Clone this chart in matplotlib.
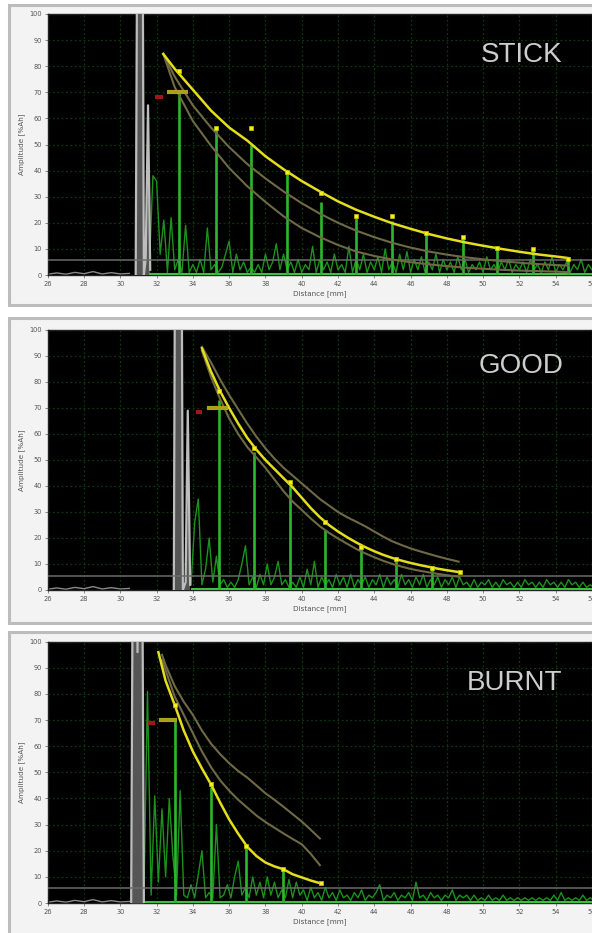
import numpy as np
import matplotlib
matplotlib.use("Agg")
import matplotlib.pyplot as plt
from matplotlib.patches import Rectangle

plt.rcParams["font.family"] = ["DejaVu Sans"]

# ---------------- data ----------------
panel_names = ["STICK", "GOOD", "BURNT"]
x_ticks = list(range(26, 57, 2))
y_ticks = list(range(0, 101, 10))
noise_step = 0.2

# low grey trace before the initial echo (same for all panels)
pre_x = [26.0, 26.5, 27.0, 27.5, 28.0, 28.5, 29.0, 29.5, 30.0, 30.5]
pre_y = [0.3, 0.8, 0.3, 1.0, 0.5, 1.3, 0.4, 0.9, 0.4, 0.6]

# STICK
stick_gray_x = [30.85, 31.1, 31.3, 31.4, 31.53, 31.65]
stick_gray_y = [0, 400, 0, 6, 65, 2]
stick_noise_start = 31.6
stick_noise = [3, 38,
               36, 8, 21, 1, 22,
               2, 6, 1, 19, 1,
               4, 1, 6, 1, 18,
               2, 4, 1, 3, 8,
               13, 1, 8, 2, 5,
               1, 3, 1, 4, 1,
               8, 2, 5, 12, 2,
               8, 2, 5, 1, 6,
               1, 4, 2, 11, 1,
               6, 2, 5, 1, 8,
               2, 4, 1, 11, 1,
               6, 2, 8, 1, 5,
               2, 7, 1, 10, 2,
               5, 1, 8, 2, 9,
               1, 6, 2, 7, 1,
               5, 2, 8, 1, 6,
               2, 5, 1, 7, 2,
               6, 1, 4, 2, 5,
               1, 7, 2, 4, 1,
               5, 2, 6, 1, 4,
               2, 5, 1, 6, 2,
               4, 1, 5, 2, 7,
               1, 4, 2, 5, 1,
               4, 2, 6, 1, 4,
               2]
stick_echo_x = [33.24, 35.28, 37.21, 39.19, 41.06, 42.99, 44.97, 46.84, 48.88, 50.76, 52.75, 54.68]
stick_echo_h = [70, 56, 50, 39.5, 28, 22, 20.5, 16, 14, 9.8, 9.8, 6]
stick_mark_y = [78, 56.3, 56.3, 39.5, 31.4, 22.6, 22.6, 16.1, 14.6, 10.3, 10.0, 6.1]
stick_curve_x = [32.37, 33, 34, 35, 36, 37, 38, 39, 40, 41, 42, 43, 44, 45,
                 46, 47, 48, 49, 50, 51, 52, 53, 54, 54.68]
stick_dac_y = [84.7, 79, 71, 63, 56.5, 51.5, 45.5, 40.5, 36, 32, 28.2, 25, 22.3, 19.8,
               17.7, 15.7, 14, 12.5, 11.2, 10, 8.9, 7.9, 7.1, 6.5]
stick_mid_y = [84.7, 76, 65, 56.5, 49, 42.5, 37, 32, 27.5, 23.5, 20, 17, 14.5, 12.3,
               10.5, 9, 7.8, 6.8, 6, 5.3, 4.7, 4.2, 3.8, 3.6]
stick_low_y = [84.7, 72, 59, 49.5, 41, 34, 28, 22.5, 18, 14.5, 11.5, 9, 7.3, 5.9,
               4.9, 4.1, 3.4, 2.8, 2.4, 2, 1.7, 1.5, 1.3, 1.1]
stick_gate = (32.57, 33.72, 70)
stick_red = (31.93, 32.37, 68.3)
stick_thr = 5.8

# GOOD
good_gray_x = [32.95, 33.2, 33.45, 33.6, 33.72, 33.85]
good_gray_y = [0, 500, 0, 3, 69, 2]
good_noise_start = 33.9
good_noise = [2, 26, 35, 2, 8, 20, 3, 13, 2, 4,
              1, 3, 1, 4, 10, 17, 2, 5, 1, 6,
              2, 10, 2, 5, 11, 2, 4, 1, 3, 1,
              5, 1, 8, 2, 11, 1, 5, 2, 4, 1,
              6, 2, 5, 1, 6, 1, 4, 2, 5, 1,
              4, 2, 6, 1, 5, 2, 4, 1, 6, 2,
              4, 1, 5, 2, 6, 1, 4, 2, 5, 1,
              4, 2, 5, 1, 5, 2, 3, 1, 4, 1,
              3, 2, 4, 1, 3, 1, 4, 2, 3, 1,
              3, 1, 4, 2, 3, 1, 3, 1, 4, 2,
              3, 1, 3, 1, 4, 2, 3, 1, 3, 1,
              2, 1]
good_echo_x = [35.44, 37.39, 39.36, 41.29, 43.27, 45.2, 47.2]
good_echo_h = [73, 53, 40, 23, 16, 11, 8]
good_mark_x = [35.44, 37.39, 39.36, 41.29, 43.27, 45.2, 47.2, 48.7]
good_mark_y = [76.6, 54.5, 41.4, 26, 16.7, 11.8, 8.6, 6.9]
good_curve_x = [34.5, 35, 35.5, 36, 36.5, 37, 37.5, 38, 38.5, 39, 39.5, 40, 40.5, 41, 41.5,
                42, 42.5, 43, 43.5, 44, 44.5, 45, 45.5, 46, 46.5, 47, 47.5, 48, 48.65]
good_dac_y = [93, 84, 76.5, 70, 64, 58.5, 54, 50, 46.5, 43, 39.5, 35.5, 31.5, 28, 25,
              22.5, 20.3, 18.3, 16.5, 14.9, 13.5, 12.3, 11.3, 10.4, 9.6, 8.9, 8.2, 7.6, 6.9]
good_up_y = [93.5, 87.5, 81, 75, 69.5, 64, 59, 54.5, 50.5, 47, 44, 41, 38, 35, 32.5,
             30, 28, 26.3, 24.5, 22.5, 20.5, 18.7, 17.3, 16, 14.9, 13.9, 12.9, 12, 10.9]
good_lo_y = [92, 82, 73.5, 66, 60, 55, 51, 47, 42.5, 38, 34, 30.8, 27.5, 24.5, 22,
             19.8, 17.8, 15.8, 14.1, 12.6, 11.2, 10, 9, 8.1, 7.4, 6.8, 6.2, 5.7, 5.1]
good_gate = (34.76, 35.96, 70)
good_red = (34.2, 34.5, 68.6)
good_thr = 5.5

# BURNT
burnt_gray_x = [30.6, 30.8, 30.95, 31.1, 31.3]
burnt_gray_y = [0, 300, 96, 300, 0]
burnt_noise_start = 31.3
burnt_noise = [2, 81, 3, 41, 8, 36, 10, 40, 18, 3,
               43, 3, 2, 7, 2, 11, 20, 2, 4, 2,
               30, 2, 3, 7, 2, 10, 16, 3, 6, 2,
               10, 3, 8, 2, 10, 3, 8, 2, 5, 2,
               9, 2, 8, 3, 5, 1, 6, 2, 4, 1,
               6, 2, 4, 1, 5, 2, 3, 1, 4, 2,
               5, 1, 3, 2, 4, 7, 1, 3, 2, 4,
               1, 3, 2, 4, 1, 8, 2, 3, 1, 4,
               2, 3, 1, 3, 2, 5, 1, 3, 2, 3,
               1, 3, 1, 2, 1, 3, 1, 2, 1, 3,
               1, 2, 1, 2, 1, 2, 1, 2, 1, 2,
               1, 2, 1, 3, 1, 4, 1, 2, 1, 2,
               1, 3, 1, 2, 1]
burnt_echo_x = [33.0, 34.98, 36.93, 38.99]
burnt_echo_h = [70, 44.5, 21.5, 13.2]
burnt_mark_x = [33.0, 34.98, 36.93, 38.99, 41.05]
burnt_mark_y = [75.8, 45.4, 21.8, 12.9, 7.5]
burnt_dac_x = [32.1, 32.5, 33, 33.5, 34, 34.5, 35, 35.5, 36, 36.5, 37, 37.5, 38, 38.5,
               39, 39.5, 40, 40.5, 41.05]
burnt_dac_y = [96, 85, 75.8, 66, 58, 51.5, 45.4, 38.5, 32, 26.5, 21.5, 18, 15.5, 14,
               12.9, 11, 9.8, 8.6, 7.5]
burnt_side_x = [32.3, 32.5, 33, 33.5, 34, 34.5, 35, 35.5, 36, 36.5, 37, 37.5, 38, 38.5,
                39, 39.5, 40, 40.5, 41]
burnt_up_y = [95, 91, 83, 77, 72, 66, 61, 57, 53.5, 50.5, 48, 45, 42, 39.5,
              36.8, 34, 31.2, 28, 24.7]
burnt_lo_y = [93, 89, 79, 72, 65, 58, 52, 47, 43, 39.5, 36.5, 33.5, 31, 28.8,
              26.6, 24.5, 22.5, 18.8, 14.5]
burnt_gate = (32.15, 33.1, 70)
burnt_red = (31.55, 31.9, 68.7)
burnt_thr = 5.7

panels = [
    dict(name="STICK", gx=stick_gray_x, gy=stick_gray_y, n0=stick_noise_start, noise=stick_noise,
         ex=stick_echo_x, eh=stick_echo_h, mx=stick_echo_x, my=stick_mark_y,
         dx=stick_curve_x, dy=stick_dac_y, sx=stick_curve_x, uy=stick_mid_y, ly=stick_low_y,
         gate=stick_gate, red=stick_red, thr=stick_thr),
    dict(name="GOOD", gx=good_gray_x, gy=good_gray_y, n0=good_noise_start, noise=good_noise,
         ex=good_echo_x, eh=good_echo_h, mx=good_mark_x, my=good_mark_y,
         dx=good_curve_x, dy=good_dac_y, sx=good_curve_x, uy=good_up_y, ly=good_lo_y,
         gate=good_gate, red=good_red, thr=good_thr),
    dict(name="BURNT", gx=burnt_gray_x, gy=burnt_gray_y, n0=burnt_noise_start, noise=burnt_noise,
         ex=burnt_echo_x, eh=burnt_echo_h, mx=burnt_mark_x, my=burnt_mark_y,
         dx=burnt_dac_x, dy=burnt_dac_y, sx=burnt_side_x, uy=burnt_up_y, ly=burnt_lo_y,
         gate=burnt_gate, red=burnt_red, thr=burnt_thr),
]

# layout in pixels (592 x 933)
W, H = 592, 933
ax_rows = [(14, 275), (330, 590), (641.7, 903)]      # top, bottom of plot area
box_rows = [(5, 305), (318, 623), (632, 945)]         # grey frame of each panel
title_pos = [(0.871, 0.816), (0.869, 0.833), (0.858, 0.815)]

fig = plt.figure(figsize=(W / 100, H / 100), dpi=100)
fig.patch.set_facecolor("white")

for (top, bot) in box_rows:
    fig.patches.append(Rectangle((9 / W, (H - bot) / H), 1.1, (bot - top) / H,
                                 transform=fig.transFigure, facecolor="#f3f3f3",
                                 edgecolor="#bcbcbc", lw=2.2, zorder=-5))

for p, (top, bot), tpos in zip(panels, ax_rows, title_pos):
    left = 47.7 / W
    ax = fig.add_axes([left, (H - bot) / H, 1 - left, (bot - top) / H])
    ax.set_facecolor("black")
    ax.set_xlim(26, 56)
    ax.set_ylim(0, 100)

    ax.grid(True, color="#0d380d", linestyle=(0, (1.5, 2)), lw=0.9)
    ax.set_axisbelow(True)

    # grey trace before and initial echo
    ax.plot(pre_x, pre_y, color="#8a8a8a", lw=1.0, zorder=2)
    ax.fill_between(p["gx"], p["gy"], color="#555555", zorder=3, lw=0)
    ax.plot(p["gx"], p["gy"], color="#bdbdbd", lw=1.6, zorder=4)

    # green A-scan
    nx = p["n0"] + noise_step * np.arange(len(p["noise"]))
    ax.hlines(0.4, nx[0], nx[-1], color="#3fbf3f", lw=1.5, zorder=3)
    ax.plot(nx, p["noise"], color="#1c921c", lw=1.0, zorder=3)
    ax.vlines(p["ex"], 0, p["eh"], color="#2cb82c", lw=1.9, zorder=4)

    # threshold line
    ax.axhline(p["thr"], color="#6c6c6c", lw=1.2, alpha=0.9, zorder=5)

    # DAC curves
    ax.plot(p["sx"], p["uy"], color="#6f6946", lw=1.5, zorder=6)
    ax.plot(p["sx"], p["ly"], color="#6f6946", lw=1.5, zorder=6)
    ax.plot(p["dx"], p["dy"], color="#e4de1c", lw=1.8, zorder=7)
    ax.plot(p["mx"], p["my"], "s", color="#f4f020", ms=3.2, mec="#c9c400", mew=0.5, zorder=8)

    # gate and reference marks
    gx0, gx1, gy = p["gate"]
    ax.hlines(gy, gx0, gx1, color="#aaa01c", lw=3.0, zorder=8)
    rx0, rx1, ry = p["red"]
    ax.hlines(ry, rx0, rx1, color="#a31616", lw=3.0, zorder=8)

    ax.text(tpos[0], tpos[1], p["name"], transform=ax.transAxes, ha="center", va="baseline",
            fontsize=20, color="#cdcdcd", family="Liberation Sans", zorder=9)

    ax.set_xticks(x_ticks)
    ax.set_yticks(y_ticks)
    ax.tick_params(labelsize=4.8, labelcolor="#555555", color="#777777", length=2.5,
                   width=0.6, pad=1.5)
    for s in ax.spines.values():
        s.set_color("#222222")
        s.set_linewidth(1.0)

    ax.set_xlabel("Distance [mm]", fontsize=5.2, color="#555555")
    ax.xaxis.set_label_coords(0.5, -0.058)
    ax.set_ylabel("Amplitude [%Ah]", fontsize=5.2, color="#555555")
    ax.yaxis.set_label_coords(-0.041, 0.5)

fig.savefig("out.png", dpi=100)
